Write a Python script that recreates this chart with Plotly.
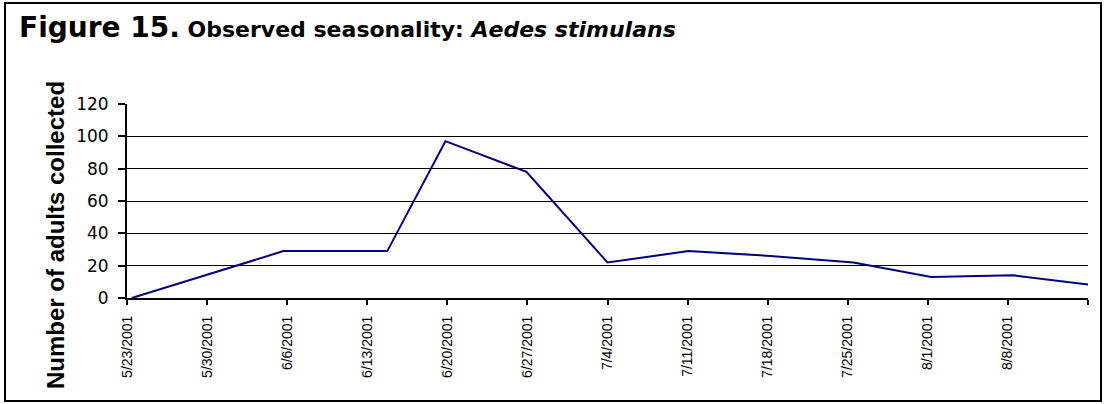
import plotly.graph_objects as go

# --- data ---
sample_dates = [
    "2001-05-23 10:00", "2001-06-05 16:00", "2001-06-14 18:00", "2001-06-19 20:00",
    "2001-06-26 22:00", "2001-07-04 00:00", "2001-07-11 02:00", "2001-07-18 06:00",
    "2001-07-25 12:00", "2001-08-01 07:00", "2001-08-08 12:00", "2001-08-15 10:00",
]
adults = [0, 29, 29, 97, 78, 22, 29, 26, 22, 13, 14, 8]

tick_dates = [
    "2001-05-23", "2001-05-30", "2001-06-06", "2001-06-13", "2001-06-20", "2001-06-27",
    "2001-07-04", "2001-07-11", "2001-07-18", "2001-07-25", "2001-08-01", "2001-08-08",
    "2001-08-15",
]
tick_labels = [
    "5/23/2001", "5/30/2001", "6/6/2001", "6/13/2001", "6/20/2001", "6/27/2001",
    "7/4/2001", "7/11/2001", "7/18/2001", "7/25/2001", "8/1/2001", "8/8/2001", "",
]
y_ticks = [0, 20, 40, 60, 80, 100, 120]

W, H = 1114, 404
L, R, T, B = 127, 26, 104, 106
pw, ph = W - L - R, H - T - B

def px(x):
    return (x - L) / pw

def py(y):
    return (H - B - y) / ph

fig = go.Figure()
fig.add_trace(go.Scatter(
    x=sample_dates, y=adults, mode="lines",
    line=dict(color="#000080", width=2),
    hoverinfo="x+y", showlegend=False,
))

font = "Liberation Sans, Arial, sans-serif"
wide = "DejaVu Sans, Liberation Sans, sans-serif"

fig.update_layout(
    width=W, height=H,
    margin=dict(l=L, r=R, t=T, b=B),
    paper_bgcolor="white", plot_bgcolor="white",
    font=dict(family=font, color="black"),
    xaxis=dict(
        type="date",
        range=[tick_dates[0], tick_dates[-1]],
        tickmode="array", tickvals=tick_dates, ticktext=tick_labels,
        tickangle=-90, tickfont=dict(size=14, family=font),
        ticks="outside", ticklen=5, tickwidth=2, tickcolor="black",
        ticklabelstandoff=5,
        showline=True, linecolor="black", linewidth=2,
        showgrid=False, zeroline=False,
    ),
    yaxis=dict(
        range=[0, 120], tickmode="array", tickvals=y_ticks,
        tickfont=dict(size=17, family=wide),
        ticks="outside", ticklen=7, tickwidth=2, tickcolor="black",
        ticklabelstandoff=6,
        showline=True, linecolor="black", linewidth=2,
        showgrid=True, gridcolor="black", gridwidth=1,
        zeroline=False,
    ),
    shapes=[dict(
        type="rect", xref="paper", yref="paper",
        x0=px(5), x1=px(1101), y0=py(401), y1=py(3),
        line=dict(color="black", width=2), fillcolor="rgba(0,0,0,0)",
        layer="below",
    )],
    annotations=[
        dict(
            xref="paper", yref="paper", x=px(17), y=py(27),
            xanchor="left", yanchor="middle", showarrow=False,
            text="<b><span style='font-size:28px'>Figure 15.</span> "
                 "<span style='font-size:22px'>Observed seasonality: <i>Aedes stimulans</i></span></b>",
            font=dict(size=22, family=wide, color="black"),
        ),
        dict(
            xref="paper", yref="paper", x=px(55), y=py(391),
            xanchor="center", yanchor="bottom", showarrow=False,
            textangle=-90,
            text="<b>Number of adults collected</b>",
            font=dict(size=24, family=font, color="black"),
        ),
    ],
)

fig.write_html("out.html", config={"displayModeBar": False},
               post_script="document.body.style.margin='0';")
